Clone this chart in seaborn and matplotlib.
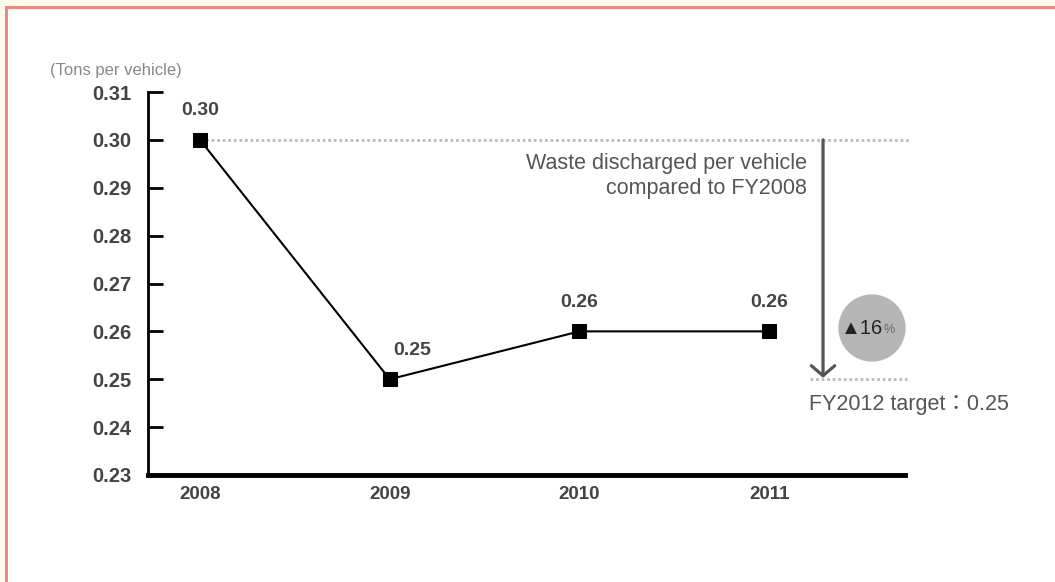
import matplotlib
matplotlib.use("Agg")
import matplotlib.pyplot as plt
import seaborn as sns
import pandas as pd
from matplotlib.patches import Rectangle

# Waste discharged per vehicle (tons), by fiscal year
years = ["2008", "2009", "2010", "2011"]
waste = [0.30, 0.25, 0.26, 0.26]
value_labels = ["0.30", "0.25", "0.26", "0.26"]
y_ticks = [0.23, 0.24, 0.25, 0.26, 0.27, 0.28, 0.29, 0.30, 0.31]
baseline = 0.30
target = 0.25
reduction_label = "16"

sns.set_theme(style="white")
plt.rcParams["font.family"] = ["Liberation Sans", "DejaVu Sans", "Noto Sans CJK JP"]

df = pd.DataFrame({"year": years, "waste": waste})

fig = plt.figure(figsize=(10.55, 5.82), dpi=100)
fig.patch.set_facecolor("white")

# page frame: cream margin with a red rule on the top and left
fig.patches.append(Rectangle((0, 0), 1, 1, transform=fig.transFigure,
                             facecolor="#fffbec", edgecolor="none", zorder=-3))
fig.patches.append(Rectangle((6 / 1055, -0.01), 1.01, 1 - 7 / 582 + 0.01,
                             transform=fig.transFigure, facecolor="white",
                             edgecolor="#e88a85", linewidth=2.2, zorder=-2))

ax = fig.add_axes([148 / 1055, 107 / 582, 757 / 1055, 383 / 582])
ax.set_facecolor("none")

sns.lineplot(data=df, x="year", y="waste", ax=ax, color="black", linewidth=1.5,
             marker="s", markersize=10, markeredgecolor="black",
             markerfacecolor="black", zorder=5)

ax.set_xlim(-0.274, 3.716)
ax.set_ylim(0.23, 0.31)
ax.set_yticks(y_ticks)
ax.set_yticklabels([f"{t:.2f}" for t in y_ticks])
ax.set_xlabel("")
ax.set_ylabel("")

for side in ["top", "right"]:
    ax.spines[side].set_visible(False)
ax.spines["left"].set_linewidth(2.0)
ax.spines["left"].set_color("black")
ax.spines["bottom"].set_linewidth(3.5)
ax.spines["bottom"].set_color("black")

ax.tick_params(axis="y", direction="in", length=11, width=2, color="black",
               pad=12, labelsize=14.5, labelcolor="#444444", left=True)
ax.tick_params(axis="x", length=0, pad=8, labelsize=13.5, labelcolor="#444444")
for lab in ax.get_yticklabels() + ax.get_xticklabels():
    lab.set_fontweight("bold")

# value labels above each point
offsets = [(0, 21), (16, 21), (0, 21), (0, 21)]
for i, (v, txt) in enumerate(zip(waste, value_labels)):
    ax.annotate(txt, (i, v), xytext=offsets[i], textcoords="offset points",
                ha="center", va="center", fontsize=14, fontweight="bold",
                color="#444444")

# baseline and target guides
ax.plot([0, 3.74], [baseline, baseline], color="#bbbbbb", linestyle=(0, (1, 1)),
        linewidth=2, clip_on=False, zorder=1)
ax.plot([3.215, 3.725], [target, target], color="#bbbbbb", linestyle=(0, (1, 1)),
        linewidth=2, clip_on=False, zorder=1)

# reduction arrow from FY2008 level down to target
ax.annotate("", xy=(3.284, target + 0.0003), xytext=(3.284, baseline),
            arrowprops=dict(arrowstyle="->,head_length=0.6,head_width=0.7",
                            color="#555555", linewidth=2.3,
                            shrinkA=0, shrinkB=0))

ax.text(3.2, 0.2951, "Waste discharged per vehicle", ha="right", va="center",
        fontsize=15.5, color="#555555")
ax.text(3.2, 0.2899, "compared to FY2008", ha="right", va="center",
        fontsize=15.5, color="#555555")

# reduction badge
ax.scatter([3.542], [0.2607], s=2350, color="#b5b5b5", edgecolors="none",
           zorder=3, clip_on=False)
ax.text(3.6, 0.2606, "▲" + reduction_label, ha="right", va="center",
        fontsize=14.5, color="#222222", zorder=4)
ax.text(3.602, 0.2603, "%", ha="left", va="center", fontsize=9,
        color="#666666", zorder=4)

ax.text(3.21, 0.2447, "FY2012 target：0.25", ha="left", va="center",
        fontsize=15.5, color="#555555",
        family=["Liberation Sans", "Noto Sans CJK JP"])

fig.text(50 / 1055, 1 - 70 / 582, "(Tons per vehicle)", ha="left", va="center",
         fontsize=12, color="#888888")

fig.savefig("out.png", dpi=100, facecolor=fig.get_facecolor())
